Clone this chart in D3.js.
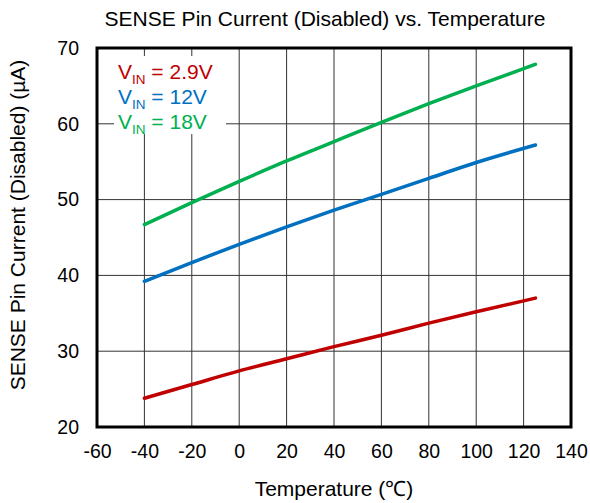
<!DOCTYPE html>
<html>
<head>
<meta charset="utf-8">
<script src="https://cdn.jsdelivr.net/npm/d3@7"></script>
<style>
  body { margin: 0; background: #fff; }
  svg { display: block; font-family: Arial, "Liberation Sans", sans-serif; }
</style>
</head>
<body>
<svg id="chart" width="590" height="503"></svg>
<script>
// Temperature sweep points (°C)
const temps = [-40, -20, 0, 20, 40, 60, 80, 100, 125];

// SENSE pin current when disabled (µA) for each supply voltage
const vin29 = [23.8, 25.6, 27.4, 29.0, 30.6, 32.1, 33.7, 35.2, 37.0];
const vin12 = [39.2, 41.7, 44.1, 46.4, 48.6, 50.7, 52.8, 54.9, 57.2];
const vin18 = [46.7, 49.6, 52.4, 55.1, 57.65, 60.2, 62.65, 65.0, 67.85];

const seriesNames = ["2.9V", "12V", "18V"];
const seriesColors = ["#C00000", "#0070C0", "#00B050"];

const xTicks = [-60, -40, -20, 0, 20, 40, 60, 80, 100, 120, 140];
const yTicks = [20, 30, 40, 50, 60, 70];

const svg = d3.select("#chart");
const plotL = 97, plotR = 571, plotT = 48, plotB = 427;

const x = d3.scaleLinear().domain([-60, 140]).range([plotL, plotR]);
const y = d3.scaleLinear().domain([20, 70]).range([plotB, plotT]);

// Grid
const grid = svg.append("g");
grid.selectAll("line.v").data(xTicks).join("line")
  .attr("x1", d => x(d)).attr("x2", d => x(d))
  .attr("y1", plotT).attr("y2", plotB)
  .attr("stroke", "#333").attr("stroke-width", 1);
grid.selectAll("line.h").data(yTicks).join("line")
  .attr("x1", plotL).attr("x2", plotR)
  .attr("y1", d => y(d)).attr("y2", d => y(d))
  .attr("stroke", "#333").attr("stroke-width", 1);

// Axes (labels only; the frame is drawn separately)
const plainNum = d => String(d);
const xAxis = svg.append("g")
  .attr("transform", `translate(0,${plotB})`)
  .call(d3.axisBottom(x).tickValues(xTicks).tickFormat(plainNum).tickSize(0).tickPadding(17));
const yAxis = svg.append("g")
  .attr("transform", `translate(${plotL},0)`)
  .call(d3.axisLeft(y).tickValues(yTicks).tickFormat(plainNum).tickSize(0).tickPadding(18));
[xAxis, yAxis].forEach(a => {
  a.select(".domain").remove();
  a.selectAll("text")
    .attr("font-family", "Arial, 'Liberation Sans', sans-serif")
    .attr("font-size", 19.5).attr("fill", "#000");
});

// Series lines
const seriesData = [vin29, vin12, vin18];
const line = d3.line()
  .x((d, i) => x(temps[i]))
  .y(d => y(d))
  .curve(d3.curveMonotoneX);
svg.append("g").selectAll("path").data(seriesData).join("path")
  .attr("d", d => line(d))
  .attr("fill", "none")
  .attr("stroke", (d, i) => seriesColors[i])
  .attr("stroke-width", 3.5)
  .attr("stroke-linecap", "round");

// Legend
const legend = svg.append("g");
legend.append("rect")
  .attr("x", 114).attr("y", 56).attr("width", 112).attr("height", 78)
  .attr("fill", "#fff");
seriesNames.forEach((name, i) => {
  const t = legend.append("text")
    .attr("x", 118).attr("y", 79 + i * 25)
    .attr("font-size", 21)
    .attr("fill", seriesColors[i]);
  t.append("tspan").text("V");
  t.append("tspan").attr("font-size", 13.5).attr("dy", 5).text("IN");
  t.append("tspan").attr("dy", -5).text(" = " + name);
});

// Frame
svg.append("rect")
  .attr("x", plotL).attr("y", plotT)
  .attr("width", plotR - plotL).attr("height", plotB - plotT)
  .attr("fill", "none").attr("stroke", "#000").attr("stroke-width", 3);

// Titles
svg.append("text")
  .attr("x", 325).attr("y", 26)
  .attr("text-anchor", "middle").attr("font-size", 21)
  .text("SENSE Pin Current (Disabled) vs. Temperature");
svg.append("text")
  .attr("x", 334).attr("y", 496)
  .attr("text-anchor", "middle").attr("font-size", 21)
  .text("Temperature (℃)");
svg.append("text")
  .attr("transform", `translate(25,225) rotate(-90)`)
  .attr("text-anchor", "middle").attr("font-size", 21)
  .text("SENSE Pin Current (Disabled) (µA)");
</script>
</body>
</html>
